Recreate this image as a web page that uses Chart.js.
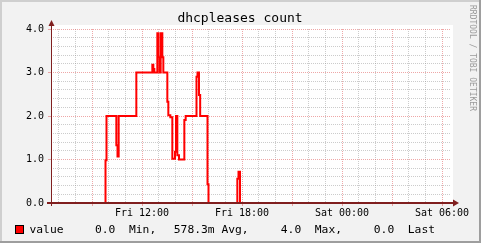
<!DOCTYPE html>
<html>
<head>
<meta charset="utf-8">
<script src="https://cdn.jsdelivr.net/npm/chart.js@4/dist/chart.umd.min.js"></script>
<style>
  html, body { margin: 0; padding: 0; background: #f2f2f2; }
  #wrap { width: 481px; height: 243px; }
</style>
</head>
<body>
<div id="wrap"><canvas id="c" width="481" height="243"></canvas></div>
<script>
// ── Data (hours since Fri 00:00, step values) ───────────────────────
const X_MIN = 6.54;
const X_MAX = 30.54;

const HOURS = [
  6.54, 9.81, 9.87, 10.46, 10.53, 10.60, 11.66,
  12.62, 12.68, 12.74, 12.92, 12.98, 13.05, 13.12, 13.22, 13.28,
  13.52, 13.58, 13.70, 13.82, 13.98, 14.04, 14.12, 14.22, 14.54, 14.62,
  15.27, 15.33, 15.42, 15.49, 15.93, 15.99,
  17.72, 17.79, 17.88, 30.54
];
const VALUES = [
  0, 0.98, 2.0, 1.33, 1.07, 2.0, 3.0,
  3.18, 3.08, 3.0, 3.9, 3.35, 3.0, 3.9, 3.35, 3.0,
  2.33, 2.02, 1.97, 1.02, 1.18, 2.0, 1.1, 1.0, 1.91, 2.0,
  2.9, 3.0, 2.48, 2.0, 0.43, 0,
  0.56, 0.72, 0, 0
];

const X_GRID = [7, 8, 9, 10, 11, 12, 13, 14, 15, 16, 17, 18, 19, 20, 21, 22, 23, 24, 25, 26, 27, 28, 29, 30];
const X_MAJOR = [9, 12, 15, 18, 21, 24, 27, 30];
const X_LABELS = { 12: "Fri 12:00", 18: "Fri 18:00", 24: "Sat 00:00", 30: "Sat 06:00" };

const Y_GRID = [0, 0.2, 0.4, 0.6, 0.8, 1, 1.2, 1.4, 1.6, 1.8, 2, 2.2, 2.4, 2.6, 2.8, 3, 3.2, 3.4, 3.6, 3.8, 4];
const Y_LABELS = { 0: "0.0", 1: "1.0", 2: "2.0", 3: "3.0", 4: "4.0" };

const TITLE = "dhcpleases count";
const WATERMARK = "RRDTOOL / TOBI OETIKER";
const LEGEND_NAME = "value";
const LEGEND_ITEMS = ["0.0  Min,", "578.3m Avg,", "4.0  Max,", "0.0  Last"];

// ── Colours (rrdtool defaults) ─────────────────────────────────────
const C_BACK = "#f2f2f2";
const C_GRID = "rgba(143,143,143,0.45)";
const C_MGRID = "rgba(222,79,79,0.5)";
const C_ARROW = "#801f1f";
const MONO = "'DejaVu Sans Mono', monospace";

const isMajorX = (v) => X_MAJOR.includes(Math.round(v * 100) / 100);
const isMajorY = (v) => Math.abs(v - Math.round(v)) < 1e-6;

// ── Decorations drawn straight on the canvas ───────────────────────
const rrdFrame = {
  id: "rrdFrame",
  beforeDraw(chart) {
    const { ctx, chartArea: a } = chart;
    const W = chart.width, H = chart.height;
    ctx.save();
    ctx.fillStyle = C_BACK;
    ctx.fillRect(0, 0, W, H);
    // shading
    ctx.fillStyle = "#cfcfcf";
    ctx.fillRect(0, 0, W, 2);
    ctx.fillRect(0, 0, 2, H);
    ctx.fillStyle = "#9e9e9e";
    ctx.fillRect(0, H - 2, W, 2);
    ctx.fillRect(W - 2, 0, 2, H);
    // canvas
    ctx.fillStyle = "#ffffff";
    ctx.fillRect(a.left, a.top - 4, a.right - a.left + 2, a.bottom - a.top + 5);
    ctx.restore();
  },
  afterDatasetsDraw(chart) {
    const { ctx, chartArea: a } = chart;
    const yb = Math.round(a.bottom);
    const xl = Math.round(a.left) + 0.5;
    ctx.save();
    ctx.strokeStyle = C_ARROW;
    ctx.fillStyle = C_ARROW;
    ctx.lineWidth = 1;
    // x axis (covers the zero run of the data line)
    ctx.fillRect(a.left - 4, yb - 1, a.right - a.left + 8, 2);
    ctx.beginPath();
    ctx.moveTo(xl, a.bottom + 3);
    ctx.lineTo(xl, a.top - 4);
    ctx.stroke();
    // arrow heads
    ctx.beginPath();
    ctx.moveTo(a.right + 8, yb);
    ctx.lineTo(a.right + 2, yb - 3.5);
    ctx.lineTo(a.right + 2, yb + 3.5);
    ctx.closePath();
    ctx.fill();
    ctx.beginPath();
    ctx.moveTo(xl, a.top - 9);
    ctx.lineTo(xl - 3, a.top - 3);
    ctx.lineTo(xl + 3, a.top - 3);
    ctx.closePath();
    ctx.fill();
    ctx.restore();
  },
  afterDraw(chart) {
    const { ctx } = chart;
    ctx.save();
    ctx.fillStyle = "#000";
    // title
    ctx.font = "13px " + MONO;
    ctx.textAlign = "center";
    ctx.textBaseline = "alphabetic";
    ctx.fillText(TITLE, 240, 22);
    // legend
    ctx.fillStyle = "#ff0000";
    ctx.fillRect(15, 225, 9, 9);
    ctx.strokeStyle = "#000";
    ctx.lineWidth = 1;
    ctx.strokeRect(15.5, 225.5, 8, 8);
    ctx.fillStyle = "#000";
    ctx.font = "11.3px " + MONO;
    ctx.textAlign = "left";
    ctx.fillText(LEGEND_NAME, 29.5, 233);
    const xs = [95, 173.8, 280.8, 373.8];
    LEGEND_ITEMS.forEach((t, i) => ctx.fillText(t, xs[i], 233));
    // watermark
    ctx.translate(469, 5);
    ctx.rotate(Math.PI / 2);
    ctx.fillStyle = "#9a9a9a";
    ctx.font = "8px " + MONO;
    ctx.textBaseline = "middle";
    ctx.fillText(WATERMARK, 0, -3);
    ctx.restore();
  }
};

new Chart(document.getElementById("c"), {
  type: "line",
  data: {
    datasets: [{
      label: "value",
      data: HOURS.map((h, i) => ({ x: h, y: VALUES[i] })),
      stepped: true,
      borderColor: "#ff0000",
      borderWidth: 2,
      pointRadius: 0,
      fill: false,
      tension: 0,
    }],
  },
  options: {
    responsive: false,
    devicePixelRatio: 1,
    animation: false,
    layout: { padding: { top: 29, right: 30, left: 0, bottom: 0 } },
    plugins: { legend: { display: false }, tooltip: { enabled: false }, title: { display: false } },
    scales: {
      x: {
        type: "linear",
        min: X_MIN,
        max: X_MAX,
        afterFit: (s) => { s.height = 40; },
        afterBuildTicks: (s) => { s.ticks = X_GRID.map((v) => ({ value: v })); },
        ticks: {
          autoSkip: false,
          maxRotation: 0,
          padding: 1,
          color: "#000",
          font: { family: MONO, size: 10 },
          callback: (v) => X_LABELS[v] || "",
        },
        grid: {
          drawTicks: true,
          tickLength: 3,
          lineWidth: 1,
          borderDash: [1, 1],
          color: (ctx) => (ctx.tick && isMajorX(ctx.tick.value) ? C_MGRID : C_GRID),
          tickColor: (ctx) => (ctx.tick && isMajorX(ctx.tick.value) ? C_MGRID : "rgba(0,0,0,0)"),
        },
        border: { display: false, dash: [1, 1] },
      },
      y: {
        min: 0,
        max: 4,
        afterFit: (s) => { s.width = 51; },
        afterBuildTicks: (s) => { s.ticks = Y_GRID.map((v) => ({ value: v })); },
        ticks: {
          autoSkip: false,
          padding: 4,
          color: "#000",
          font: { family: MONO, size: 10 },
          callback: (v) => (isMajorY(v) ? Y_LABELS[Math.round(v)] : ""),
        },
        grid: {
          drawTicks: true,
          tickLength: 3,
          lineWidth: 1,
          borderDash: [1, 1],
          color: (ctx) => (ctx.tick && isMajorY(ctx.tick.value) ? C_MGRID : C_GRID),
          tickColor: (ctx) => (ctx.tick && isMajorY(ctx.tick.value) ? C_MGRID : "rgba(0,0,0,0)"),
        },
        border: { display: false, dash: [1, 1] },
      },
    },
  },
  plugins: [rrdFrame],
});
</script>
</body>
</html>
